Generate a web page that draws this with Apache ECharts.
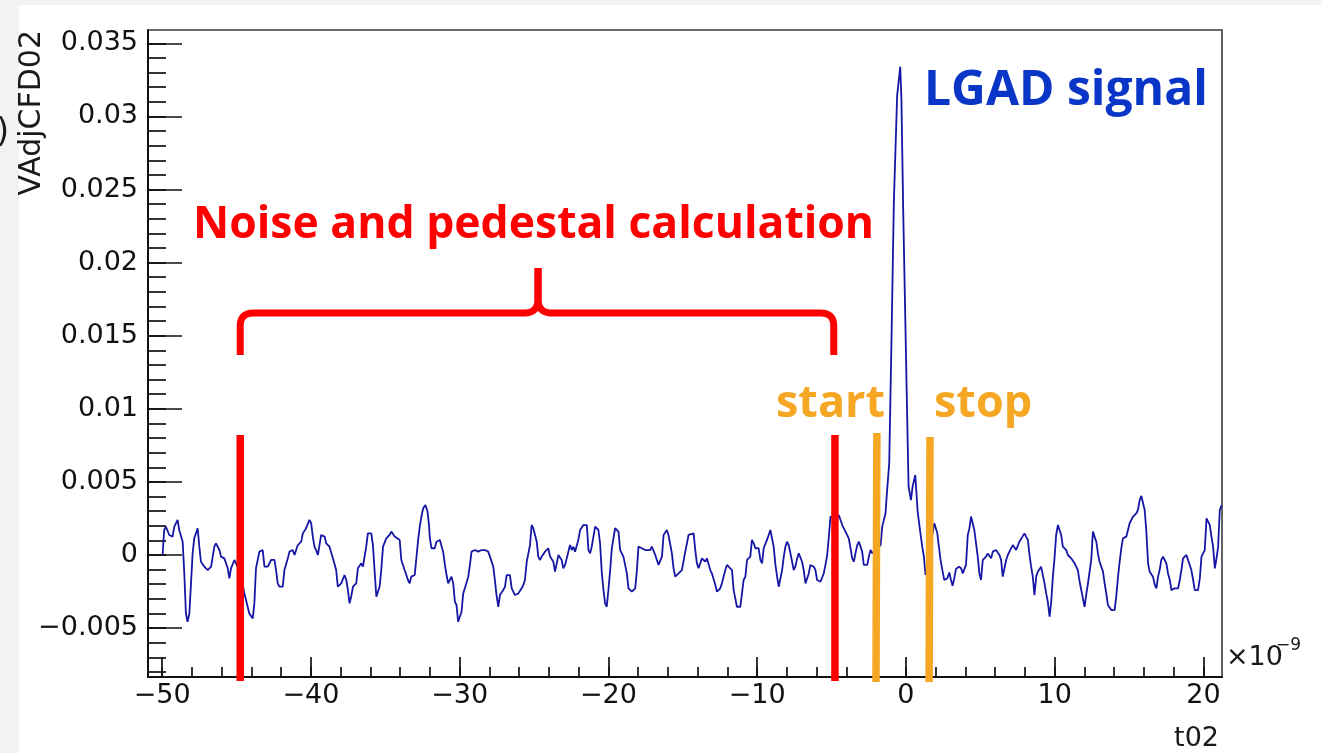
<!DOCTYPE html>
<html><head><meta charset="utf-8">
<script src="https://cdn.jsdelivr.net/npm/echarts@6/dist/echarts.min.js"></script>
<style>html,body{margin:0;padding:0;background:#fff;}#chart{width:1321px;height:753px;}</style>
</head><body><div id="chart"></div>
<script>
// ---- waveform (t in ns, value in V) ----
const times = [
-49.97,-49.86,-49.75,-49.63,-49.52,-49.30,-49.18,-48.96,-48.85,-48.74,-48.62,-48.51,-48.40,-48.29,-48.17,-48.06,-47.95,-47.84,-47.61,-47.50,
-47.39,-47.16,-46.94,-46.71,-46.49,-46.38,-46.15,-46.04,-45.82,-45.59,-45.48,-45.37,-45.14,-45.03,-44.75,-44.47,-44.36,-44.14,-43.91,-43.80,
-43.69,-43.46,-43.24,-43.12,-42.90,-42.79,-42.67,-42.45,-42.34,-42.23,-42.11,-41.89,-41.78,-41.55,-41.44,-41.22,-41.10,-40.88,-40.65,-40.54,
-40.32,-40.10,-39.98,-39.87,-39.76,-39.65,-39.53,-39.31,-39.08,-38.97,-38.75,-38.52,-38.30,-38.19,-38.07,-37.96,-37.74,-37.62,-37.51,-37.40,
-37.29,-37.17,-36.95,-36.84,-36.61,-36.50,-36.28,-36.17,-35.94,-35.83,-35.72,-35.60,-35.49,-35.38,-35.27,-35.15,-34.93,-34.71,-34.59,-34.37,
-34.26,-34.03,-33.92,-33.70,-33.47,-33.36,-33.25,-33.02,
-32.79,-32.68,-32.57,-32.45,-32.30,-32.16,-32.07,-32.00,-31.89,-31.78,-31.67,-31.56,-31.33,-31.22,-31.11,-30.99,-30.88,-30.77,-30.66,-30.55,
-30.43,-30.32,-30.21,-30.10,-29.98,-29.87,-29.76,-29.65,-29.54,-29.42,-29.31,-29.20,-28.97,-28.75,-28.53,-28.30,-28.08,-27.96,-27.74,-27.63,
-27.52,-27.40,-27.29,-27.07,-26.95,-26.84,-26.62,-26.50,-26.28,-26.06,-25.83,-25.72,-25.61,-25.49,-25.27,-25.16,-25.05,-24.93,-24.82,-24.71,
-24.60,-24.48,-24.26,-24.04,-23.92,-23.70,-23.59,-23.47,-23.36,-23.14,-23.03,-22.91,-22.80,-22.58,-22.46,-22.35,-22.24,-22.02,-21.90,-21.68,
-21.45,-21.34,-21.23,-21.12,-20.89,-20.67,-20.56,-20.44,-20.33,-20.22,-20.11,-20.00,-19.88,-19.77,-19.55,-19.32,-19.21,-19.10,-18.99,-18.76,
-18.65,-18.42,-18.20,-18.09,-17.98,-17.75,-17.53,-17.19,-17.08,-16.85,-16.63,-16.52,-16.40,-16.29,-16.07,-15.96,-15.73,-15.62,-15.51,-15.28,
-15.06,-14.83,
-14.61,-14.50,-14.27,-14.16,-14.05,-13.94,-13.82,-13.71,-13.49,-13.38,-13.15,-13.04,-12.93,-12.81,-12.70,-12.48,-12.37,-12.14,-12.03,-11.92,
-11.69,-11.58,-11.47,-11.36,-11.13,-11.02,-10.91,-10.79,-10.68,-10.57,-10.46,-10.35,-10.23,-10.12,-9.90,-9.78,-9.67,-9.56,-9.34,-9.11,
-9.00,-8.89,-8.77,-8.66,-8.55,-8.44,-8.32,-8.21,-8.10,-7.99,-7.88,-7.76,-7.65,-7.54,-7.43,-7.31,-7.20,-7.09,-6.98,-6.87,
-6.75,-6.64,-6.53,-6.42,-6.30,-6.19,-6.08,-5.97,-5.74,-5.63,-5.52,-5.41,-5.29,-5.18,-5.07,-4.85,-4.73,-4.62,-4.51,-4.40,
-4.28,-4.06,-3.84,-3.72,-3.61,-3.50,-3.39,-3.27,-3.16,-3.05,-2.94,-2.83,-2.71,-2.60,-2.49,-2.38,-2.26,-2.15,-1.95,-1.70,
-1.59,-1.48,-1.37,-1.28,-1.12,-0.96,-0.81,-0.59,-0.38,-0.30,-0.18,0.07,0.18,0.34,0.45,0.63,0.79,0.99,1.10,1.21,
1.32,1.50,1.75,1.91,2.11,2.22,2.33,2.45,2.58,2.78,2.92,3.03,3.14,3.25,3.37,3.57,
3.71,3.82,3.93,4.04,4.16,4.27,4.38,4.49,4.60,4.72,4.83,4.94,5.05,5.17,5.28,5.39,5.50,5.61,5.73,5.84,
6.06,6.18,6.29,6.40,6.51,6.62,6.74,6.85,6.96,7.07,7.19,7.30,7.41,7.52,7.63,7.75,7.97,8.08,8.20,8.31,
8.42,8.53,8.64,8.76,8.87,8.98,9.09,9.21,9.32,9.43,9.54,9.66,9.77,9.88,9.99,10.10,10.22,10.33,10.44,10.55,
10.78,10.89,11.11,11.34,11.45,11.56,11.68,11.79,11.90,12.01,12.12,12.24,12.35,12.46,12.57,12.69,12.80,12.91,13.02,13.25,
13.36,13.47,13.58,13.81,14.03,14.14,14.26,14.37,14.48,14.59,14.82,14.93,15.04,15.27,15.49,15.60,15.72,15.83,15.94,16.05,
16.16,16.28,16.39,16.61,16.73,16.84,16.95,17.06,17.17,17.29,17.40,17.51,17.62,17.74,17.85,18.07,18.30,18.41,18.52,18.63,
18.86,18.97,19.08,19.19,19.31,19.42,19.64,19.76,19.87,20.09,20.21,20.43,20.54,20.65,20.77,20.88,20.99,21.10,21.22
];
const volts = [
0,0.00171,0.00194,0.00194,0.00137,0.00126,0.00194,0.00240,0.00171,0.00171,0.00091,-0.00126,-0.00400,-0.00457,-0.00400,-0.00194,0.00011,0.00114,0.00183,0.00057,
-0.00046,-0.00080,-0.00103,-0.00080,0.00057,0.00080,0.00034,-0.00011,-0.00023,-0.00091,-0.00160,-0.00091,-0.00034,-0.00023,-0.00120,-0.00263,-0.00308,-0.00400,-0.00434,-0.00331,
-0.00091,0.00023,0.00034,-0.00080,-0.00080,-0.00091,-0.00034,-0.00034,-0.00103,-0.00194,-0.00217,-0.00217,-0.00103,-0.00023,0.00023,0.00034,0,0.00068,0.00091,0.00148,
0.00183,0.00240,0.00217,0.00126,0.00057,0.00034,0,0.00137,0.00126,0.00080,0.00057,-0.00023,-0.00103,-0.00217,-0.00217,-0.00194,-0.00137,-0.00171,-0.00240,-0.00331,
-0.00285,-0.00217,-0.00194,-0.00091,-0.00057,-0.00080,0.00057,0.00148,0.00148,0.00068,-0.00103,-0.00285,-0.00297,-0.00217,-0.00103,0.00057,0.00114,0.00137,0.00160,0.00126,
0.00137,0.00103,-0.00034,-0.00103,-0.00171,-0.00194,-0.00148,-0.00137,
0.00103,0.00194,0.00263,0.00320,0.00342,0.00297,0.00217,0.00114,0.00046,0.00034,0.00046,0.00091,0.00103,0.00091,0.00023,-0.00068,-0.00137,-0.00194,-0.00171,-0.00148,
-0.00194,-0.00320,-0.00342,-0.00457,-0.00463,-0.00388,-0.00263,-0.00228,-0.00228,-0.00148,-0.00068,0.00023,0.00034,0.00023,0.00034,0.00034,0.00023,-0.00011,-0.00080,-0.00171,
-0.00274,-0.00354,-0.00274,-0.00240,-0.00217,-0.00137,-0.00137,-0.00228,-0.00274,-0.00263,-0.00228,-0.00205,-0.00171,-0.00046,0.00068,0.00205,0.00183,0.00137,0.00091,-0.00011,
-0.00034,-0.00011,0.00023,0.00046,-0.00011,-0.00046,-0.00114,-0.00057,0,-0.00034,-0.00091,-0.00068,-0.00023,0.00068,0.00034,0.00057,0.00023,0.00103,0.00171,0.00205,
0.00205,0.00034,0.00011,0.00057,0.00194,0.00171,0.00080,-0.00126,-0.00240,-0.00331,-0.00354,-0.00240,-0.00103,0.00046,0.00183,0.00160,0.00034,0.00023,-0.00011,-0.00126,
-0.00228,-0.00251,-0.00228,-0.00114,0.00057,0.00046,0.00034,0.00034,0.00057,0,-0.00068,-0.00080,-0.00011,0.00137,0.00171,0.00137,0.00011,-0.00091,-0.00148,-0.00126,
-0.00103,0.00023,
0.00137,0.00148,0.00148,0.00034,-0.00057,-0.00091,-0.00080,-0.00023,-0.00046,-0.00023,-0.00103,-0.00126,-0.00137,-0.00205,-0.00251,-0.00228,-0.00194,-0.00103,-0.00068,-0.00080,
-0.00103,-0.00240,-0.00297,-0.00354,-0.00354,-0.00263,-0.00171,-0.00148,-0.00034,-0.00023,-0.00011,0.00103,0.00080,0.00046,0.00046,-0.00034,-0.00057,0.00046,0.00103,0.00171,
0.00183,0.00057,-0.00068,-0.00148,-0.00217,-0.00217,-0.00103,-0.00011,0.00057,0.00091,0.00068,0.00011,-0.00046,-0.00103,-0.00080,-0.00023,0.00011,0,-0.00046,-0.00103,
-0.00194,-0.00194,-0.00126,-0.00068,-0.00057,-0.00080,-0.00103,-0.00171,-0.00183,-0.00194,-0.00126,-0.00068,0,0.00126,0.00263,0.00263,0.00228,0.00251,0.00274,0.00263,
0.00205,0.00160,0.00114,0.00046,-0.00023,-0.00046,0.00011,0.00068,0.00091,0.00080,0.00023,-0.00068,-0.00057,-0.00068,-0.00011,0.00034,0.00011,0.00023,0.00046,0.00068,
0.00194,0.00240,0.00285,0.00420,0.00630,0.01520,0.02410,0.03140,0.03340,0.03110,0.02350,0.01030,0.00467,0.00376,0.00467,0.00547,0.00297,0.00137,0.00057,-0.00011,
-0.00137,-0.00060,0.00120,0.00217,0.00150,0.00057,-0.00034,-0.00103,-0.00171,-0.00160,-0.00120,-0.00171,-0.00210,-0.00160,-0.00095,-0.00080,
-0.00091,-0.00126,-0.00126,-0.00068,0.00137,0.00183,0.00263,0.00274,0.00171,0.00171,-0.00011,-0.00126,-0.00171,-0.00034,-0.00023,-0.00011,0.00011,0,-0.00023,0.00023,
0.00034,0.00034,0,-0.00034,-0.00148,-0.00137,-0.00034,0,0.00023,0.00034,0.00068,0.00068,0.00034,0.00046,0.00091,0.00103,0.00148,0.00126,0.00103,0,
-0.00080,-0.00148,-0.00274,-0.00148,-0.00114,-0.00103,-0.00080,-0.00091,-0.00194,-0.00263,-0.00320,-0.00422,-0.00320,-0.00148,-0.00023,0.00137,0.00205,0.00217,0.00137,0.00057,
0.00034,0,-0.00023,-0.00057,-0.00080,-0.00103,-0.00183,-0.00240,-0.00297,-0.00354,-0.00274,-0.00194,-0.00114,-0.00034,0.00160,0.00160,0.00091,0.00011,-0.00046,-0.00114,
-0.00194,-0.00263,-0.00342,-0.00377,-0.00377,-0.00285,-0.00148,-0.00046,0.00046,0.00114,0.00126,0.00171,0.00217,0.00263,0.00285,0.00308,0.00377,0.00404,0.00400,0.00308,
0.00171,-0.00057,-0.00114,-0.00148,-0.00205,-0.00228,-0.00148,-0.00103,-0.00034,-0.00011,-0.00011,-0.00057,-0.00126,-0.00171,-0.00240,-0.00228,-0.00228,-0.00171,-0.00103,-0.00023,
0,-0.00011,-0.00068,-0.00103,-0.00171,-0.00240,-0.00240,-0.00160,-0.00011,0.00034,0.00251,0.00205,0.00126,0.00057,-0.00091,-0.00023,0.00057,0.00308,0.00340
];

// ---- axes ----
const xTickValues = [-50,-40,-30,-20,-10,0,10,20];
const xTickLabels = ['\u221250','\u221240','\u221230','\u221220','\u221210','0','10','20'];
const yTickValues = [-0.005,0,0.005,0.01,0.015,0.02,0.025,0.03,0.035];
const yTickLabels = ['\u22120.005','0','0.005','0.01','0.015','0.02','0.025','0.03','0.035'];
const xMinorValues = []; for (let i = -50; i <= 20; i += 2) xMinorValues.push(i);
const yMinorValues = []; for (let i = -8; i <= 35; i++) yMinorValues.push(i / 1000);
const X_RANGE = [-50.95, 21.25];
const Y_RANGE = [-0.008345, 0.03591];

// ---- annotation anchors (data units) ----
const noiseWindow = [-44.75, -4.77];   // red lines
const startStop = [[-1.95, -2.01], [1.62, 1.56]]; // orange lines (top, bottom)
const markerTopV = [0.00821, 0.00834, 0.00807];
const bracketV = {arm: 0.01368, bar: 0.01655, tip: 0.01963};
const bracketT = {left: -44.75, mid: -24.73, right: -4.85};

function nearestLabel(vals, labels, v) {
  let bi = 0, bd = Infinity;
  vals.forEach((x, i) => { const d = Math.abs(x - v); if (d < bd) { bd = d; bi = i; } });
  return labels[bi];
}
const labelFont = 'DejaVu Sans';
const tickStyle = {color: '#111', width: 1.7};

const chart = echarts.init(document.getElementById('chart'));
chart.setOption({
  animation: false,
  backgroundColor: '#ffffff',
  grid: {left: 148, top: 30, width: 1074, height: 647, show: true, borderColor: '#3a3a3a', borderWidth: 1.6, backgroundColor: 'transparent'},
  xAxis: [
    {type: 'value', min: X_RANGE[0], max: X_RANGE[1], position: 'bottom',
     axisLine: {show: true, onZero: false, lineStyle: {color: '#111', width: 2}},
     axisTick: {show: true, inside: true, length: 20, customValues: xTickValues, lineStyle: tickStyle},
     axisLabel: {show: true, customValues: xTickValues, formatter: v => nearestLabel(xTickValues, xTickLabels, v),
                 fontFamily: labelFont, fontSize: 27, color: '#111', margin: 5},
     splitLine: {show: false}},
    {type: 'value', min: X_RANGE[0], max: X_RANGE[1], position: 'bottom',
     axisLine: {show: false, onZero: false},
     axisTick: {show: true, inside: true, length: 10, customValues: xMinorValues, lineStyle: tickStyle},
     axisLabel: {show: false}, splitLine: {show: false}}
  ],
  yAxis: [
    {type: 'value', min: Y_RANGE[0], max: Y_RANGE[1], position: 'left',
     axisLine: {show: true, onZero: false, lineStyle: {color: '#111', width: 2}},
     axisTick: {show: true, inside: true, length: 34, customValues: yTickValues, lineStyle: tickStyle},
     axisLabel: {show: true, customValues: yTickValues, formatter: v => nearestLabel(yTickValues, yTickLabels, v),
                 fontFamily: labelFont, fontSize: 27, color: '#111', margin: 10},
     splitLine: {show: false}},
    {type: 'value', min: Y_RANGE[0], max: Y_RANGE[1], position: 'left',
     axisLine: {show: false, onZero: false},
     axisTick: {show: true, inside: true, length: 18, customValues: yMinorValues, lineStyle: tickStyle},
     axisLabel: {show: false}, splitLine: {show: false}}
  ],
  series: [{
    type: 'line', xAxisIndex: 0, yAxisIndex: 0, showSymbol: false, symbol: 'none',
    data: times.map((t, i) => [t, volts[i]]),
    lineStyle: {color: '#1616a6', width: 1.8}, z: 3, clip: true
  }]
});

const px = (t, v) => chart.convertToPixel({seriesIndex: 0}, [t, v]);
const axisBottom = px(0, Y_RANGE[0])[1];
const graphics = [
  {type: 'rect', shape: {x: 0, y: 0, width: 19, height: 753}, style: {fill: '#f2f2f2'}, z: 0},
  {type: 'rect', shape: {x: 0, y: 0, width: 1321, height: 5}, style: {fill: '#f2f2f2'}, z: 0}
];
// red noise window lines
noiseWindow.forEach(t => {
  const a = px(t, markerTopV[0]);
  graphics.push({type: 'line', shape: {x1: a[0], y1: a[1], x2: a[0], y2: axisBottom + 4},
    style: {stroke: '#ff0000', lineWidth: 7.5}, z: 50});
});
// orange start / stop lines
startStop.forEach((tt, i) => {
  const a = px(tt[0], markerTopV[i + 1]);
  const b = px(tt[1], Y_RANGE[0]);
  graphics.push({type: 'line', shape: {x1: a[0], y1: a[1], x2: b[0], y2: axisBottom + 5},
    style: {stroke: '#f5a623', lineWidth: 7.5}, z: 50});
});
// curly bracket drawn as polylines (quadratic corners sampled)
(function () {
  const L = px(bracketT.left, 0)[0], M = px(bracketT.mid, 0)[0], R = px(bracketT.right, 0)[0];
  const yArm = px(0, bracketV.arm)[1], yBar = px(0, bracketV.bar)[1], yTip = px(0, bracketV.tip)[1];
  const r = 13, r2 = 14;
  function quad(p0, c, p1, out) {
    for (let k = 1; k <= 10; k++) {
      const s = k / 10;
      out.push([(1-s)*(1-s)*p0[0] + 2*(1-s)*s*c[0] + s*s*p1[0], (1-s)*(1-s)*p0[1] + 2*(1-s)*s*c[1] + s*s*p1[1]]);
    }
  }
  const left = [[L, yArm], [L, yBar + r]];
  quad([L, yBar + r], [L, yBar], [L + r, yBar], left);
  left.push([M - r2, yBar]);
  quad([M - r2, yBar], [M, yBar], [M, yBar - r2], left);
  left.push([M, yTip]);
  const right = [[M, yTip], [M, yBar - r2]];
  quad([M, yBar - r2], [M, yBar], [M + r2, yBar], right);
  right.push([R - r, yBar]);
  quad([R - r, yBar], [R, yBar], [R, yBar + r], right);
  right.push([R, yArm]);
  [left, right].forEach(pts => graphics.push({type: 'polyline', shape: {points: pts},
    style: {stroke: '#ff0000', lineWidth: 7, fill: null, lineJoin: 'round'}, z: 50}));
})();
function txt(text, x, y, font, fill, align, extra) {
  return Object.assign({type: 'text', x: x, y: y, z: 60,
    style: {text: text, font: font, fill: fill, align: align, verticalAlign: 'middle'}}, extra || {});
}
graphics.push(txt('Noise and pedestal calculation', 193, 225, 'bold 44.5px "Open Sans"', '#ff0000', 'left'));
graphics.push(txt('LGAD signal', 924, 91, 'bold 48px "Open Sans"', '#0a36c8', 'left'));
graphics.push(txt('start', 776, 404, 'bold 45px "Open Sans"', '#f5a623', 'left'));
graphics.push(txt('stop', 934, 404, 'bold 45px "Open Sans"', '#f5a623', 'left'));
graphics.push(txt('VAdjCFD02', 32, 30, '30px "DejaVu Sans"', '#1a1a1a', 'right', {rotation: Math.PI / 2}));
graphics.push(txt('t02', 1219, 739, '27px "DejaVu Sans"', '#1a1a1a', 'right'));
graphics.push(txt('\u00d710', 1226, 658, '27px "DejaVu Sans"', '#1a1a1a', 'left'));
graphics.push(txt('\u22129', 1276, 646, '17px "DejaVu Sans"', '#1a1a1a', 'left'));
graphics.push(txt(')', 9, 133, '33px "DejaVu Sans"', '#1a1a1a', 'right'));
chart.setOption({graphic: graphics});
</script>
</body></html>
